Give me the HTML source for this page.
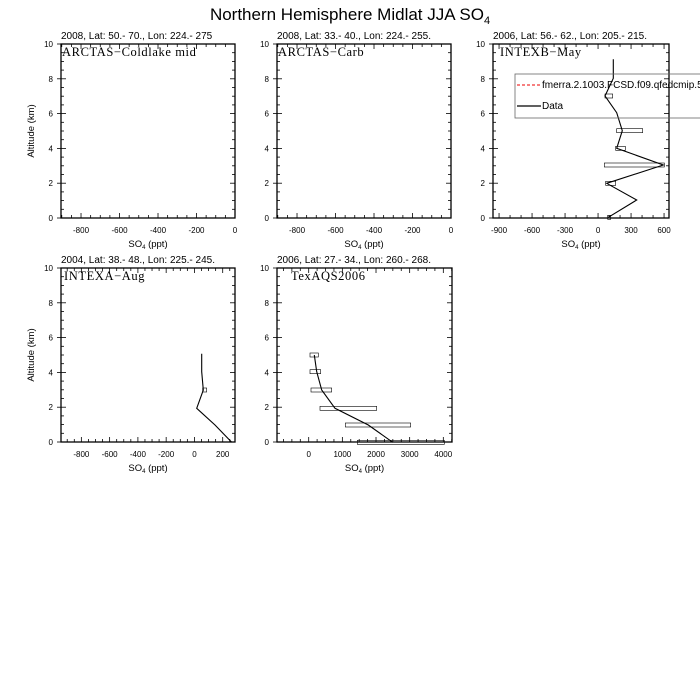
<!DOCTYPE html>
<html><head><meta charset="utf-8"><style>
html,body{margin:0;padding:0;background:#fff;width:700px;height:700px;overflow:hidden}
svg{display:block;font-family:"Liberation Sans",sans-serif}
</style></head><body>
<svg id="s" width="700" height="700" xmlns="http://www.w3.org/2000/svg">
<text x="350" y="20" font-size="17" text-anchor="middle">Northern Hemisphere Midlat JJA SO<tspan font-size="11" dy="4">4</tspan></text>
</svg>
<script>
const s=document.getElementById('s');let h='';
const panels=[
{x0:61,x1:235,y0:44,y1:218,xmin:-904,xmax:0,ticks:[-800,-600,-400,-200,0],minor:50,sub:'2008, Lat:  50.- 70., Lon: 224.- 275',lab:'ARCTAS\u2212Coldlake mid',lx:62,yl:true},
{x0:277,x1:451,y0:44,y1:218,xmin:-904,xmax:0,ticks:[-800,-600,-400,-200,0],minor:50,sub:'2008, Lat:  33.- 40., Lon: 224.- 255.',lab:'ARCTAS\u2212Carb',lx:278},
{x0:493,x1:669,y0:44,y1:218,xmin:-955,xmax:645,ticks:[-900,-600,-300,0,300,600],minor:100,sub:'2006, Lat: 56.- 62., Lon: 205.- 215.',lab:'INTEXB\u2212May',lx:500},
{x0:61,x1:235,y0:268,y1:442,xmin:-944,xmax:287,ticks:[-800,-600,-400,-200,0,200],minor:50,sub:'2004, Lat: 38.- 48., Lon: 225.- 245.',lab:'INTEXA\u2212Aug',lx:64,yl:true},
{x0:277,x1:452,y0:268,y1:442,xmin:-942,xmax:4258,ticks:[0,1000,2000,3000,4000],minor:250,sub:'2006, Lat: 27.- 34., Lon: 260.- 268.',lab:'TexAQS2006',lx:291}
];
panels.forEach(p=>{
 const X=v=>p.x0+(v-p.xmin)/(p.xmax-p.xmin)*(p.x1-p.x0);
 const Y=k=>p.y1-k/10*(p.y1-p.y0);
 h+=`<rect x="${p.x0}" y="${p.y0}" width="${p.x1-p.x0}" height="${p.y1-p.y0}" fill="none" stroke="#000" stroke-width="1.3"/>`;
 for(let k=0;k<=10;k+=0.5){const y=Y(k);const maj=k%2==0;const l=maj?5:3;
  h+=`<line x1="${p.x0}" y1="${y}" x2="${p.x0+l}" y2="${y}" stroke="#000" stroke-width="0.8"/><line x1="${p.x1}" y1="${y}" x2="${p.x1-l}" y2="${y}" stroke="#000" stroke-width="0.8"/>`;
  if(maj){h+=`<line x1="${p.x0-4}" y1="${y}" x2="${p.x0}" y2="${y}" stroke="#000" stroke-width="0.8"/><text x="${p.x0-8}" y="${y+3}" font-size="8" text-anchor="end">${k}</text>`;}}
 const st=Math.ceil(p.xmin/p.minor)*p.minor;
 for(let v=st;v<=p.xmax;v+=p.minor){const x=X(v);const maj=p.ticks.includes(v);const l=maj?5:3;
  h+=`<line x1="${x}" y1="${p.y1}" x2="${x}" y2="${p.y1-l}" stroke="#000" stroke-width="0.8"/><line x1="${x}" y1="${p.y0}" x2="${x}" y2="${p.y0+l}" stroke="#000" stroke-width="0.8"/>`;}
 p.ticks.forEach(v=>{h+=`<text x="${X(v)}" y="${p.y1+15}" font-size="8" text-anchor="middle">${v}</text>`;});
 h+=`<text x="${(p.x0+p.x1)/2}" y="${p.y1+29}" font-size="9.5" text-anchor="middle">SO<tspan font-size="6" dy="2">4</tspan><tspan dy="-2"> (ppt)</tspan></text>`;
 h+=`<text x="${p.x0}" y="${p.y0-5}" font-size="10">${p.sub}</text>`;
 h+=`<text x="${p.lx}" y="${p.y0+12}" font-size="12.5" letter-spacing="0.6" font-family="Liberation Serif,serif">${p.lab}</text>`;
 if(p.yl)h+=`<text transform="translate(${p.x0-27},${(p.y0+p.y1)/2}) rotate(-90)" font-size="9.5" text-anchor="middle">Altitude (km)</text>`;
});
function zl(pts,ox,oy){return pts.map(q=>(q[0]/3+ox).toFixed(1)+','+(q[1]/3+oy).toFixed(1)).join(' ');}
function bars(bs,ox,oy){bs.forEach(b=>{h+=`<rect x="${b[0]/3+ox}" y="${b[2]/3+oy-2}" width="${(b[1]-b[0])/3}" height="4" fill="none" stroke="#000" stroke-width="0.6"/>`;});}
bars([[405,428,198],[440,518,302],[437,466,355],[403,583,405],[407,437,460],[413,422,562]],470,30);
h+=`<polyline points="${zl([[430,88],[430,145],[405,198],[440,248],[457,302],[440,355],[580,405],[410,460],[500,510],[415,562]],470,30)}" fill="none" stroke="#000" stroke-width="1.1"/>`;
bars([[488,500,405]],40,255);
h+=`<polyline points="${zl([[485,296],[485,350],[490,405],[470,460],[525,510],[575,562]],40,255)}" fill="none" stroke="#000" stroke-width="1.1"/>`;
bars([[810,835,300],[810,842,350],[813,875,405],[840,1010,460],[916,1112,510],[952,1213,562]],40,255);
h+=`<polyline points="${zl([[823,300],[830,350],[845,405],[885,460],[985,510],[1058,562]],40,255)}" fill="none" stroke="#000" stroke-width="1.1"/>`;
h+=`<rect x="515" y="74" width="200" height="44" fill="none" stroke="#666" stroke-width="0.8"/>`;
h+=`<line x1="517" y1="85" x2="541" y2="85" stroke="#e00" stroke-width="1" stroke-dasharray="3,2"/><text x="542" y="88" font-size="10">fmerra.2.1003.FCSD.f09.qfedcmip.5</text>`;
h+=`<line x1="517" y1="106" x2="541" y2="106" stroke="#000" stroke-width="1.2"/><text x="542" y="109" font-size="10">Data</text>`;
s.insertAdjacentHTML('beforeend',h);
</script>
</body></html>
